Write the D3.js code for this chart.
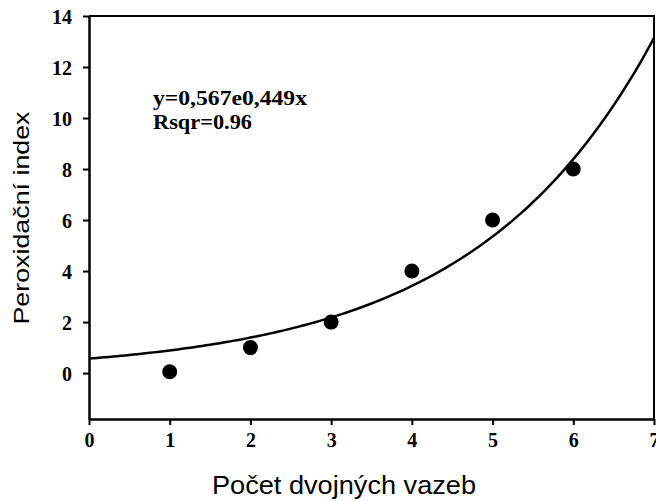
<!DOCTYPE html>
<html><head><meta charset="utf-8">
<script src="https://cdn.jsdelivr.net/npm/d3@7"></script>
<style>body{margin:0;background:#fff}</style>
</head><body>
<svg id="c" width="656" height="501"></svg>
<script>
const xValues = [1, 2, 3, 4, 5, 6];
const yValues = [0.05, 1.0, 2.0, 4.0, 6.0, 8.0];
const xTicks = [0, 1, 2, 3, 4, 5, 6, 7];
const yTicks = [0, 2, 4, 6, 8, 10, 12, 14];
const fitA = 0.567, fitB = 0.449;
const eqLines = ["y=0,567e0,449x", "Rsqr=0.96"];
const xTitle = "Počet dvojných vazeb";
const yTitle = "Peroxidační index";

const svg = d3.select("#c");
const L = 89, R = 654, T = 16, B = 419;
const x = d3.scaleLinear().domain([0, 7]).range([L, R]);
const y = d3.scaleLinear().domain([-1.8, 14]).range([B, T]);
const serif = "'Liberation Serif','Times New Roman',serif";
const sans = "'Liberation Sans',Arial,sans-serif";

// frame
svg.append("path").attr("d", `M${L},${T}H${R}V${B}`).attr("fill","none").attr("stroke","#000").attr("stroke-width",2);

const xa = svg.append("g").attr("transform",`translate(0,${B})`)
  .call(d3.axisBottom(x).tickValues(xTicks).tickFormat(d3.format("d")).tickSize(6).tickPadding(8).tickSizeOuter(0));
const ya = svg.append("g").attr("transform",`translate(${L},0)`)
  .call(d3.axisLeft(y).tickValues(yTicks).tickFormat(d3.format("d")).tickSize(6).tickPadding(11).tickSizeOuter(0));
[xa, ya].forEach(a => {
  a.select(".domain").attr("stroke","#000").attr("stroke-width",2.5);
  a.selectAll(".tick line").attr("stroke","#000").attr("stroke-width",2);
  a.selectAll(".tick text").attr("fill","#000").attr("font-family",serif)
    .attr("font-weight","bold").attr("font-size",20);
});
ya.selectAll(".tick text").attr("dy","0.35em");

// fit curve
const curveX = d3.range(0, 7.0001, 0.05);
const line = d3.line().x(d => x(d)).y(d => y(fitA*Math.exp(fitB*d)));
svg.append("path").datum(curveX).attr("d", line).attr("fill","none").attr("stroke","#000").attr("stroke-width",2.5);

// points
svg.selectAll("circle.pt").data(xValues).join("circle").attr("class","pt")
  .attr("cx", d => x(d)).attr("cy", (d,i) => y(yValues[i])).attr("r", 7.5).attr("fill","#000");

// equation
const eqLen = [154, 99];
svg.append("g").selectAll("text").data(eqLines).join("text")
  .attr("x", 153).attr("y", (d,i) => 105 + i*24)
  .attr("font-family", serif).attr("font-weight","bold").attr("font-size",21)
  .attr("textLength", (d,i) => eqLen[i]).attr("lengthAdjust","spacingAndGlyphs")
  .text(d => d);

// titles
svg.append("text").attr("x", 344).attr("y", 494).attr("text-anchor","middle")
  .attr("font-family", sans).attr("font-size", 25)
  .attr("textLength", 264).attr("lengthAdjust","spacingAndGlyphs").text(xTitle);
svg.append("text").attr("transform","translate(29,218) rotate(-90)").attr("text-anchor","middle")
  .attr("font-family", sans).attr("font-size", 22)
  .attr("textLength", 213).attr("lengthAdjust","spacingAndGlyphs").text(yTitle);
</script>
</body></html>
